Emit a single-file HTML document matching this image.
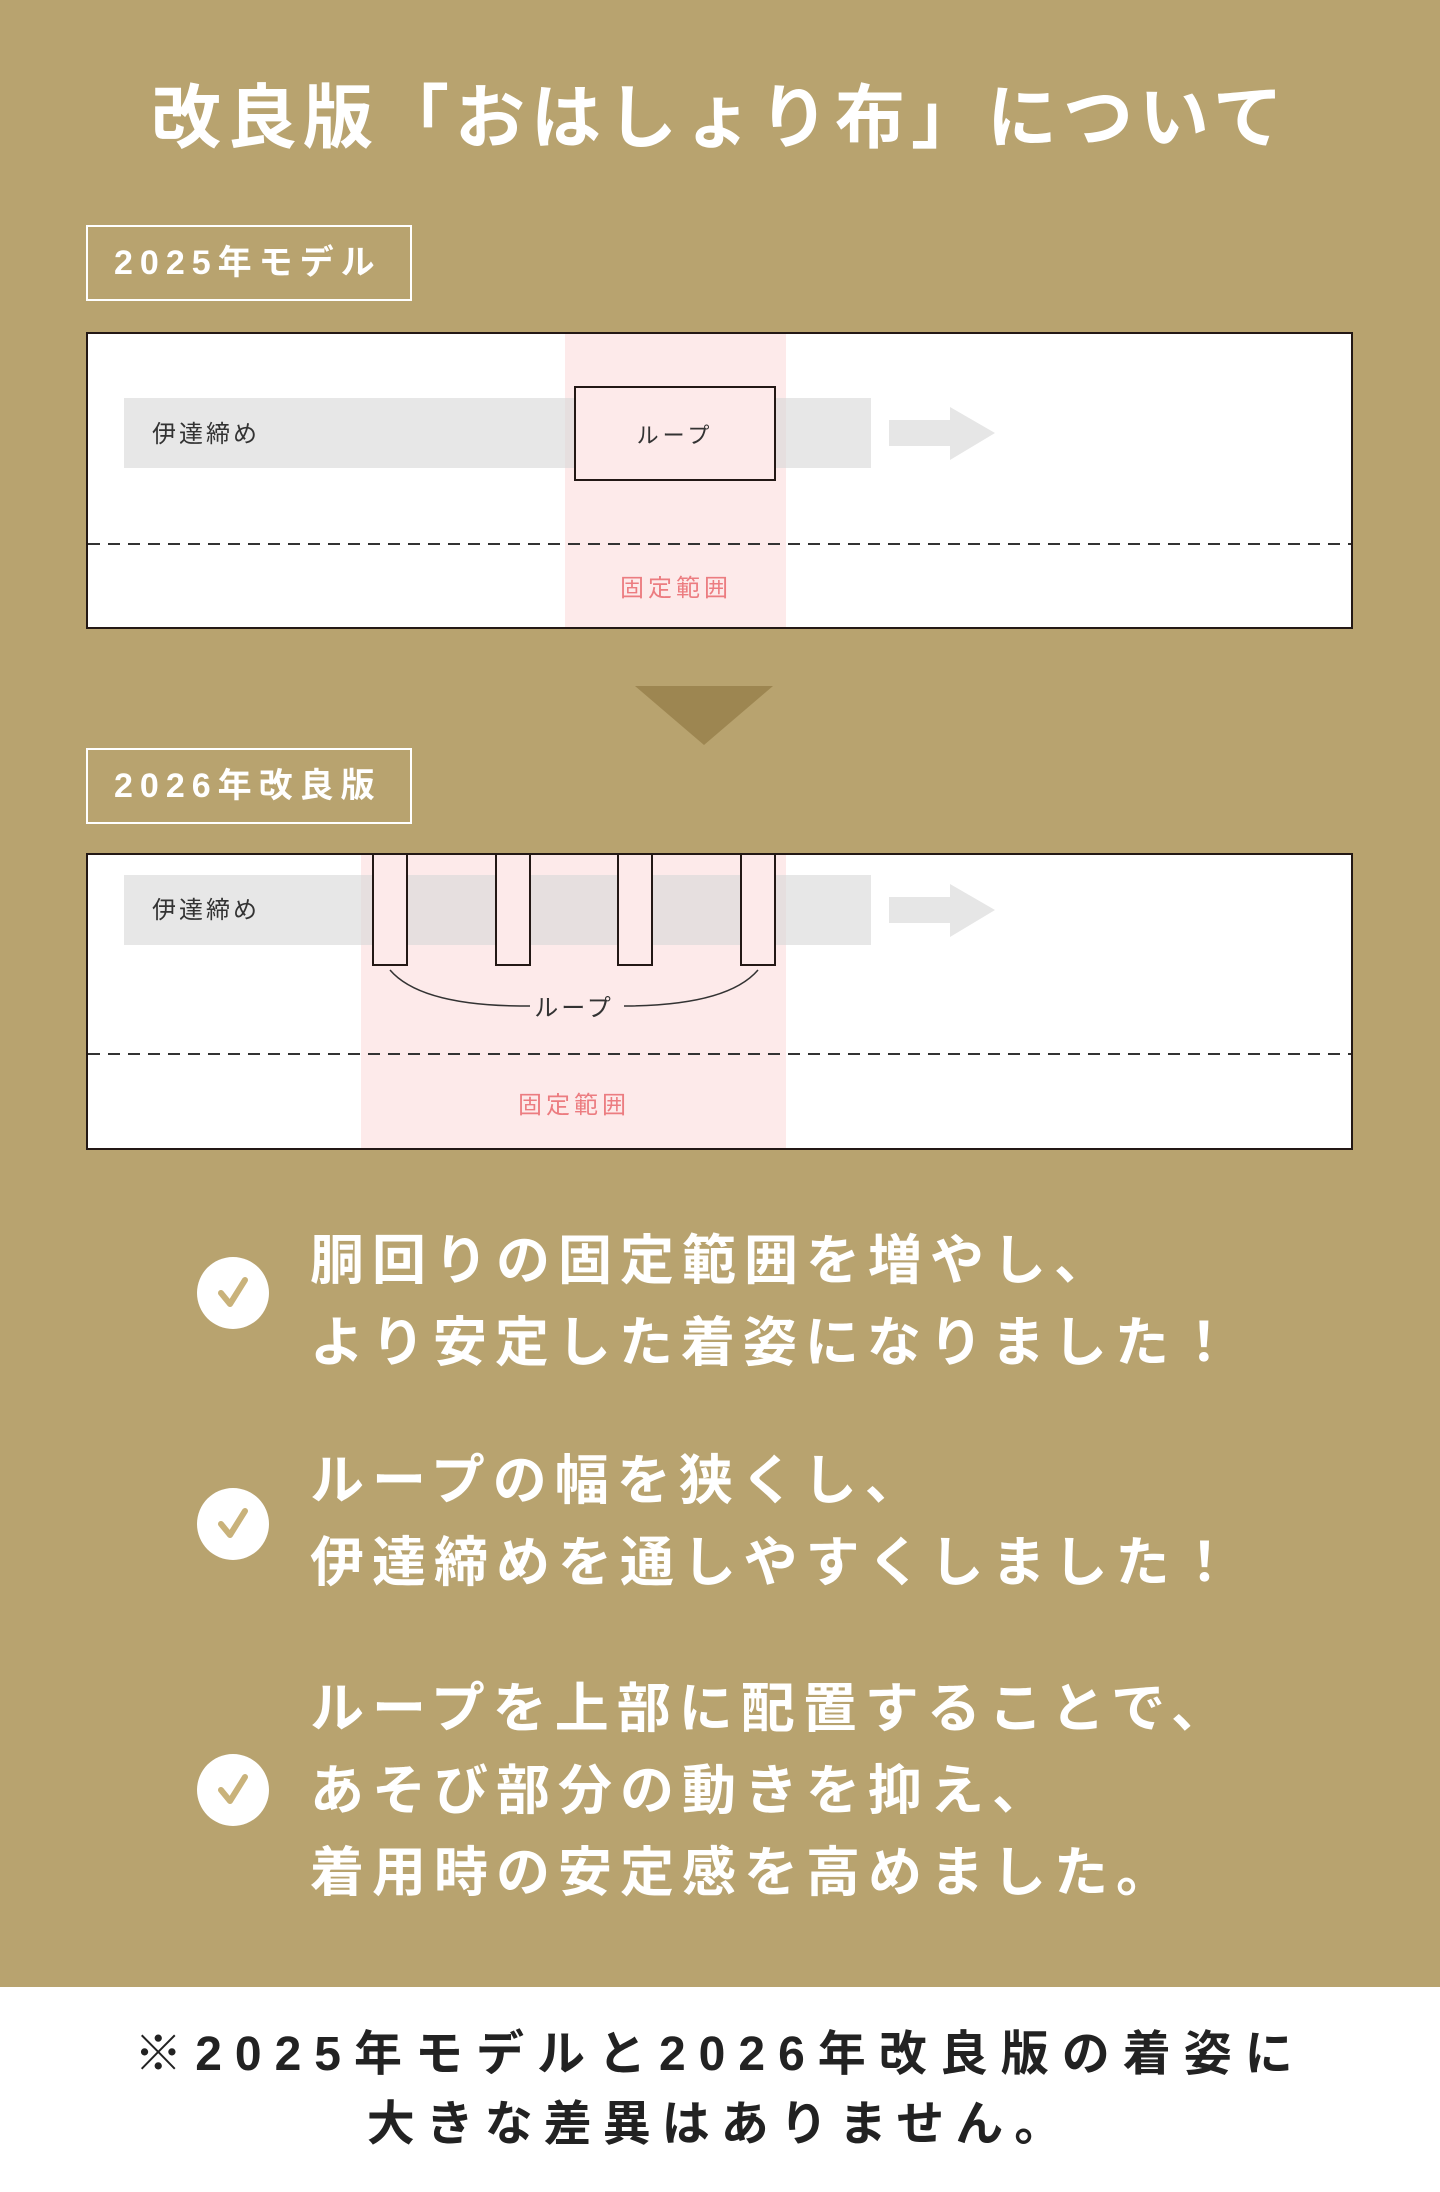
<!DOCTYPE html>
<html><head><meta charset="utf-8"><style>
body{margin:0;width:1440px;height:2192px;background:#b8a36f;position:relative;overflow:hidden;font-family:"Liberation Sans","Noto Sans CJK JP",sans-serif}
.a{position:absolute;white-space:nowrap}
.title{left:0;width:1440px;text-align:center;top:78px;font-size:70px;font-weight:bold;color:#fff;letter-spacing:6px;line-height:80px}
.lab{border:2px solid #fff;color:#fff;font-size:34px;font-weight:bold;letter-spacing:7px;box-sizing:border-box;width:326px;height:76px;line-height:72px;padding-left:26px;left:86px}
.pt{left:310px;color:#fff;font-size:54px;font-weight:bold;letter-spacing:8px;line-height:82px}
.chk{left:197px;width:72px;height:72px;border-radius:50%;background:#fff}
.bot{left:0;top:1987px;width:1440px;height:205px;background:#fff}
.bt{left:0;width:1440px;text-align:center;font-size:48px;font-weight:bold;color:#222;line-height:70px}
</style></head><body>
<div class="a title">改良版「おはしょり布」について</div>
<div class="a lab" style="top:225px">2025年モデル</div>
<div class="a lab" style="top:748px">2026年改良版</div>

<svg class="a" style="left:0;top:0" width="1440" height="1200">
 <rect x="87" y="333" width="1265" height="295" fill="#fff" stroke="#231815" stroke-width="2"/>
 <rect x="565" y="334" width="221" height="293" fill="#fdeaea"/>
 <rect x="124" y="398" width="747" height="70" fill="#d8d8d8" fill-opacity="0.62"/>
 <rect x="575" y="387" width="200" height="93" fill="#fdeaea" stroke="#231815" stroke-width="2"/>
 <polygon points="889,420 950,420 950,407 995,433 950,460 950,446 889,446" fill="#e6e6e6"/>
 <line x1="88" y1="544" x2="1351" y2="544" stroke="#333" stroke-width="2" stroke-dasharray="12,8"/>
 <text x="152" y="442" font-size="24" fill="#333" font-family="Liberation Sans,Noto Sans CJK JP,sans-serif" letter-spacing="3">伊達締め</text>
 <text x="675" y="443" font-size="22" fill="#333" text-anchor="middle" font-family="Liberation Sans,Noto Sans CJK JP,sans-serif" letter-spacing="4">ループ</text>
 <text x="676" y="596" font-size="24" fill="#ec7c80" text-anchor="middle" font-family="Liberation Sans,Noto Sans CJK JP,sans-serif" letter-spacing="4">固定範囲</text>

 <polygon points="635,686 773,686 704,745" fill="#9d8651"/>

 <rect x="87" y="854" width="1265" height="295" fill="#fff" stroke="#231815" stroke-width="2"/>
 <rect x="361" y="855" width="425" height="293" fill="#fdeaea"/>
 <rect x="124" y="875" width="747" height="70" fill="#d8d8d8" fill-opacity="0.62"/>
 <g fill="#fdeaea" stroke="#231815" stroke-width="2">
  <rect x="373" y="854" width="34" height="111"/>
  <rect x="496" y="854" width="34" height="111"/>
  <rect x="618" y="854" width="34" height="111"/>
  <rect x="741" y="854" width="34" height="111"/>
 </g>
 <polygon points="889,897 950,897 950,884 995,910 950,937 950,923 889,923" fill="#e6e6e6"/>
 <path d="M390,970 Q420,1005 520,1006 L530,1006" fill="none" stroke="#333" stroke-width="1.5"/>
 <path d="M758,970 Q728,1005 628,1006 L624,1006" fill="none" stroke="#333" stroke-width="1.5"/>
 <text x="574" y="1016" font-size="24" fill="#333" text-anchor="middle" font-family="Liberation Sans,Noto Sans CJK JP,sans-serif" letter-spacing="3">ループ</text>
 <line x1="88" y1="1054" x2="1351" y2="1054" stroke="#333" stroke-width="2" stroke-dasharray="12,8"/>
 <text x="152" y="918" font-size="24" fill="#333" font-family="Liberation Sans,Noto Sans CJK JP,sans-serif" letter-spacing="3">伊達締め</text>
 <text x="574" y="1113" font-size="24" fill="#ec7c80" text-anchor="middle" font-family="Liberation Sans,Noto Sans CJK JP,sans-serif" letter-spacing="4">固定範囲</text>
</svg>

<div class="a chk" style="top:1257px"></div>
<div class="a chk" style="top:1488px"></div>
<div class="a chk" style="top:1754px"></div>
<svg class="a" style="left:0;top:0" width="400" height="1900">
 <g fill="none" stroke="#c9b27a" stroke-width="6" stroke-linecap="round" stroke-linejoin="round">
  <path d="M221,1293 L230,1304 L245,1280"/>
  <path d="M221,1524 L230,1535 L245,1511"/>
  <path d="M221,1790 L230,1801 L245,1777"/>
 </g>
</svg>

<div class="a pt" style="top:1220px">胴回りの固定範囲を増やし、<br>より安定した着姿になりました！</div>
<div class="a pt" style="top:1440px">ループの幅を狭くし、<br>伊達締めを通しやすくしました！</div>
<div class="a pt" style="top:1668px">ループを上部に配置することで、<br>あそび部分の動きを抑え、<br>着用時の安定感を高めました。</div>

<div class="a bot"></div>
<div class="a bt" style="top:2020px;letter-spacing:13px">※2025年モデルと2026年改良版の着姿に</div>
<div class="a bt" style="top:2090px;letter-spacing:11px">大きな差異はありません。</div>
</body></html>
